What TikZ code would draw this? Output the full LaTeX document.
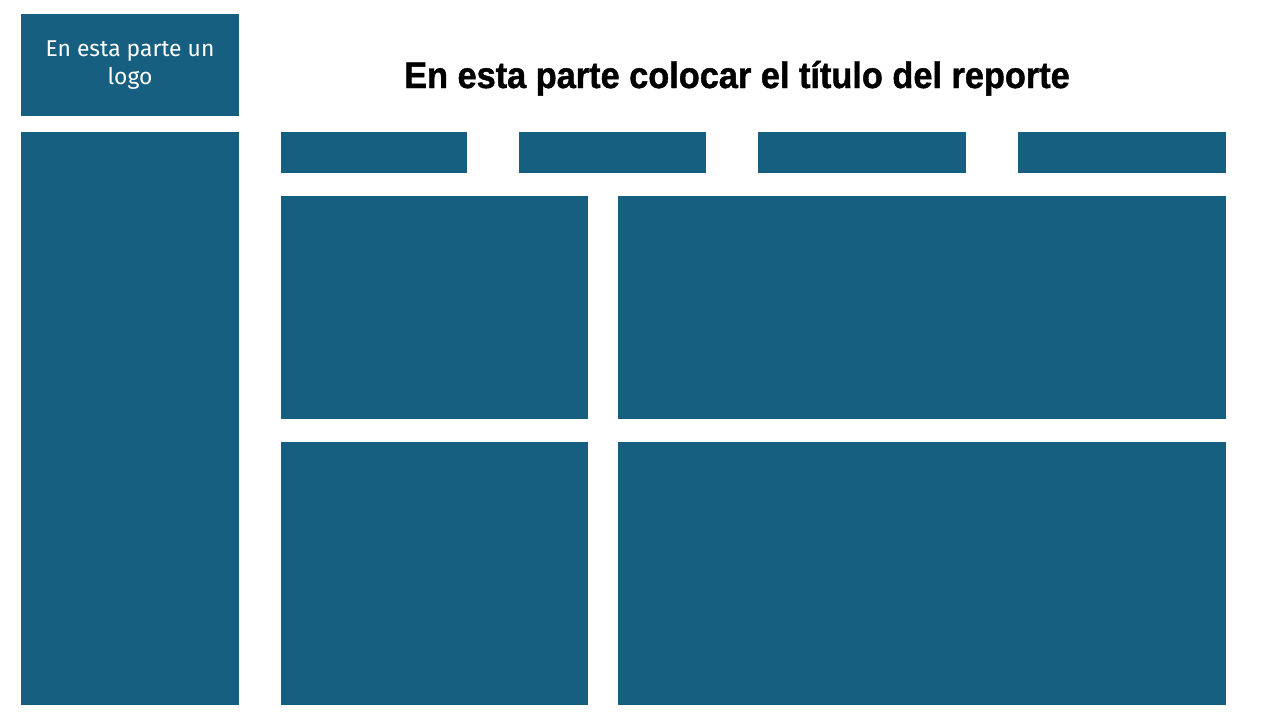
\documentclass[tikz,border=0pt]{standalone}
\usepackage{fontspec}
\setmainfont{Fira Sans}
\newfontfamily\titlefont[FakeStretch=0.93,FakeBold=1.2]{Liberation Sans}
\definecolor{panelblue}{RGB}{23,95,128}
\begin{document}
\begin{tikzpicture}[panel/.style={fill=panelblue, draw=none, inner sep=0pt, outer sep=0pt, anchor=north west}]
  \useasboundingbox (0,0) rectangle (25.6,-14.4);
  % cabecera
  \node[panel, minimum width=4.36cm, minimum height=2.04cm, text=white, align=center,
        font=\fontsize{13}{16}\selectfont] (logo) at (0.42,-0.28) {En esta parte un\\logo};
  \node[anchor=base, font=\titlefont\bfseries\fontsize{21}{25}\selectfont] (titulo) at (14.74,-1.76)
       {En esta parte colocar el título del reporte};
  % barra lateral
  \node[panel, minimum width=4.36cm, minimum height=11.46cm] (lateral) at (0.42,-2.64) {};
  % indicadores
  \node[panel, minimum width=3.72cm, minimum height=0.82cm] (kpiA) at (5.62,-2.64) {};
  \node[panel, minimum width=3.74cm, minimum height=0.82cm] (kpiB) at (10.38,-2.64) {};
  \node[panel, minimum width=4.16cm, minimum height=0.82cm] (kpiC) at (15.16,-2.64) {};
  \node[panel, minimum width=4.16cm, minimum height=0.82cm] (kpiD) at (20.36,-2.64) {};
  % graficos
  \node[panel, minimum width=6.14cm, minimum height=4.46cm] (grafA) at (5.62,-3.92) {};
  \node[panel, minimum width=12.16cm, minimum height=4.46cm] (grafB) at (12.36,-3.92) {};
  \node[panel, minimum width=6.14cm, minimum height=5.26cm] (grafC) at (5.62,-8.84) {};
  \node[panel, minimum width=12.16cm, minimum height=5.26cm] (grafD) at (12.36,-8.84) {};
\end{tikzpicture}
\end{document}
